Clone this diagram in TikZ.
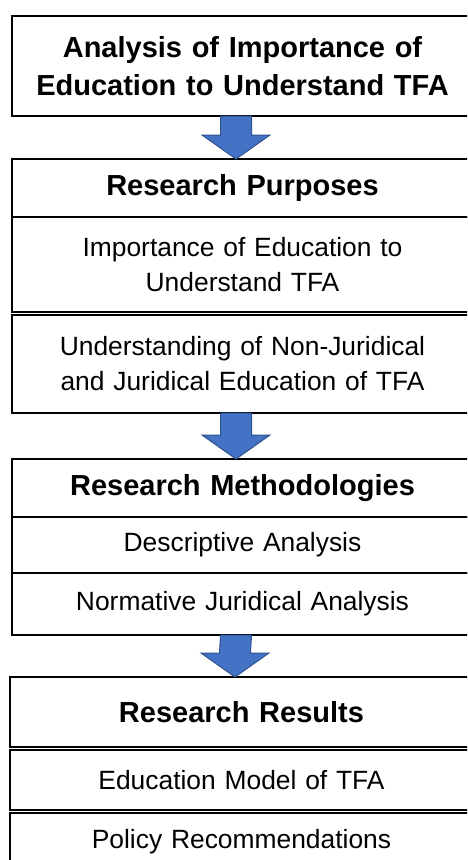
\documentclass[tikz,border=0pt]{standalone}
\usepackage{fontspec}
\setmainfont{Liberation Sans}
\usetikzlibrary{positioning,calc}

\definecolor{arrowblue}{HTML}{4472C4}
\definecolor{arrowedge}{HTML}{2F528F}

\tikzset{
  cell/.style={draw=black, line width=1.6pt, outer sep=0pt, inner sep=0pt,
               text width=461pt, align=center,
               font=\fontsize{26.4}{35}\selectfont},
  headcell/.style={cell, font=\fontsize{29}{38}\selectfont\bfseries},
  flow/.style={fill=arrowblue, draw=arrowedge, line width=1pt, line join=miter}
}

\begin{document}
\begin{tikzpicture}[x=1pt,y=1pt]
    \useasboundingbox (0,0) rectangle (467,-860);
    \clip (0,0) rectangle (467,-860);

    \node[headcell, minimum height=100pt, anchor=north west] (title) at (12,-16)
        {Analysis of Importance of\\Education to Understand TFA};

    \node[headcell, minimum height=58pt, below=43pt of title] (phead) {Research Purposes};
    \node[cell, minimum height=95pt, below=0pt of phead]  (purp1) {Importance of Education to\\Understand TFA};
    \node[cell, minimum height=98pt, below=3pt of purp1]  (purp2) {Understanding of Non-Juridical\\and Juridical Education of TFA};

    \node[headcell, minimum height=58pt, below=46pt of purp2] (mhead) {Research Methodologies};
    \node[cell, minimum height=56pt, below=0pt of mhead]  (mdesc) {Descriptive Analysis};
    \node[cell, minimum height=62pt, below=0pt of mdesc]  (mnorm) {Normative Juridical Analysis};

    \node[headcell, minimum height=70pt, text width=463pt, below=42pt of mnorm, xshift=-1pt] (rhead) {Research Results};
    \node[cell, minimum height=60pt, text width=463pt, below=3pt of rhead] (redu) {Education Model of TFA};
    \node[cell, minimum height=58pt, text width=463pt, below=3pt of redu]  (rpol) {Policy Recommendations};

    % block arrows between the stages
    \foreach \from/\to in {title/phead, purp2/mhead, mnorm/rhead}
      \draw[flow] ($(\from.south)+(-22,0)$) -- ($(\to.north)+(-22,24)$)
                  -- ($(\to.north)+(-40.5,24)$) -- ($(\to.north)+(-6.5,0)$)
                  -- ($(\to.north)+(27.5,24)$) -- ($(\to.north)+(9,24)$)
                  -- ($(\from.south)+(9,0)$) -- cycle;
\end{tikzpicture}
\end{document}
